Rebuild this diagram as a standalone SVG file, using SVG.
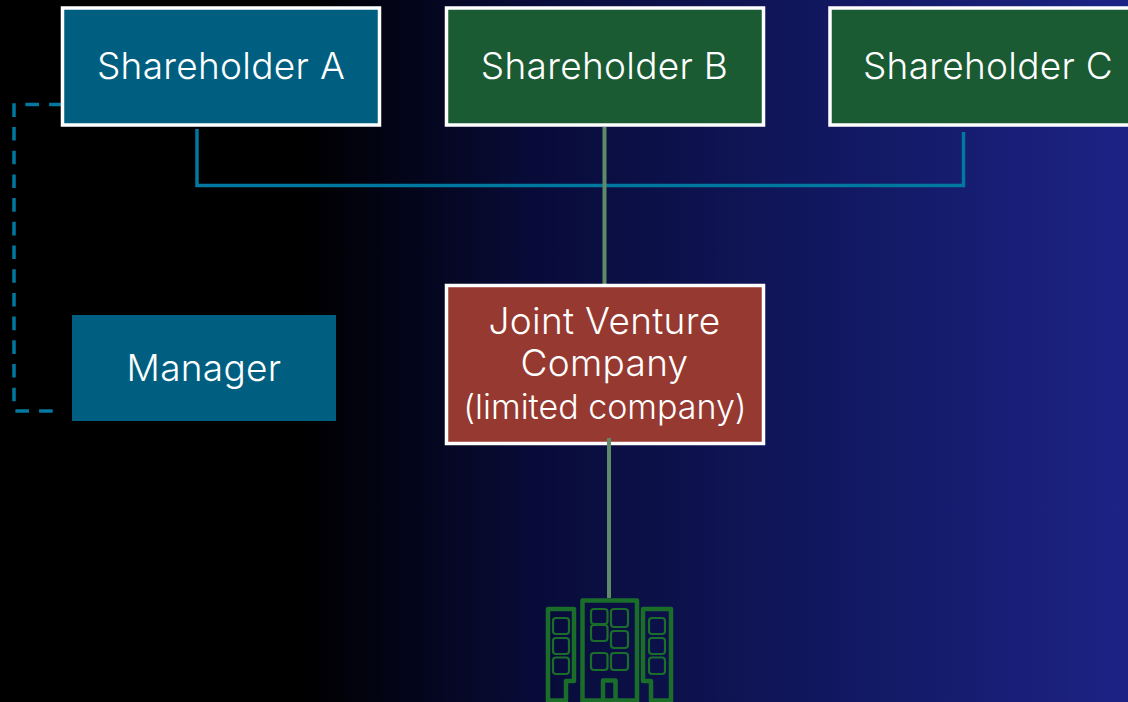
<svg xmlns="http://www.w3.org/2000/svg" width="1128" height="702" viewBox="0 0 1128 702">
<style>
.box{stroke:#fff;stroke-width:3.500}
.blue{fill:#005f80}
.green{fill:#1a5b33}
.red{fill:#963930}
text{font-family:Inter,"Noto Sans",sans-serif;fill:#fff;text-anchor:middle;font-weight:300}
.t{font-size:37px;letter-spacing:.3px}
.s{font-size:34px}
.cb{fill:none;stroke:#00789f;stroke-width:3.500}
.cg{fill:none;stroke:#5f8a66;stroke-width:4}
.d{fill:none;stroke:#00789f;stroke-width:3.500;stroke-dasharray:13.600 10.100}
.o{fill:none;stroke:#1a6e2a;stroke-width:4.500;stroke-linejoin:round}
.w{fill:none;stroke:#1a6e2a;stroke-width:2.200}
</style>
<defs>
<linearGradient id="bg" x1="0" y1="0" x2="1" y2="0">
<stop offset="0.27" stop-color="#000"/>
<stop offset="0.47" stop-color="#080b38"/>
<stop offset="0.7" stop-color="#10165a"/>
<stop offset="1" stop-color="#1c2385"/>
</linearGradient>
</defs>
<rect width="1128" height="702" fill="url(#bg)"/>
<g id="connectors">
<path class="cb" d="M197 129V185.500H963.500V132"/>
<path class="cg" d="M604.500 127V284"/>
<path class="d" d="M62.700 104.500H25"/>
<path class="d" d="M14 103.300V402"/>
<path class="d" d="M52.700 411H15"/>
</g>
<g id="shareholder-a"><rect class="box blue" x="62.500" y="8" width="317" height="117"/><text class="t" x="221" y="79">Shareholder A</text></g>
<g id="shareholder-b"><rect class="box green" x="446.500" y="8" width="317" height="117"/><text class="t" x="604.500" y="79">Shareholder B</text></g>
<g id="shareholder-c"><rect class="box green" x="830" y="8" width="320" height="117"/><text class="t" x="988" y="79">Shareholder C</text></g>
<g id="manager"><rect class="blue" x="72" y="315" width="264" height="106"/><text class="t" x="204" y="381">Manager</text></g>
<g id="joint-venture"><rect class="box red" x="446.500" y="285.500" width="317" height="158"/><text class="t" x="604.500" y="333.500">Joint Venture</text><text class="t" x="604.500" y="375.500">Company</text><text class="s" x="605" y="418.500">(limited company)</text></g>
<g id="connector-jv"><path class="cg" d="M609 438V598"/></g>
<g id="building">
<path class="o" d="M582.500 702V600.500H637V702M582.500 700.500H637M603 702V680.500H615.500V702"/>
<path class="o" d="M548 702V609H574V681H566V700.500H548"/>
<path class="o" d="M671 702V609H643V681H651V700.500H671"/>
<rect class="w" x="591" y="609" width="16.500" height="15" rx="3"/>
<rect class="w" x="591" y="625" width="16.500" height="16" rx="3"/>
<rect class="w" x="611" y="609" width="17" height="18" rx="3"/>
<rect class="w" x="611" y="631" width="17" height="17" rx="3"/>
<rect class="w" x="591" y="653" width="16.500" height="17" rx="3"/>
<rect class="w" x="611" y="653" width="17" height="17" rx="3"/>
<rect class="w" x="553" y="618" width="16" height="16" rx="3"/>
<rect class="w" x="553" y="638" width="16" height="16" rx="3"/>
<rect class="w" x="553" y="657.500" width="16" height="16.500" rx="3"/>
<rect class="w" x="649" y="618" width="16" height="16" rx="3"/>
<rect class="w" x="649" y="638" width="16" height="16" rx="3"/>
<rect class="w" x="649" y="657.500" width="16" height="16.500" rx="3"/>
</g>
</svg>
